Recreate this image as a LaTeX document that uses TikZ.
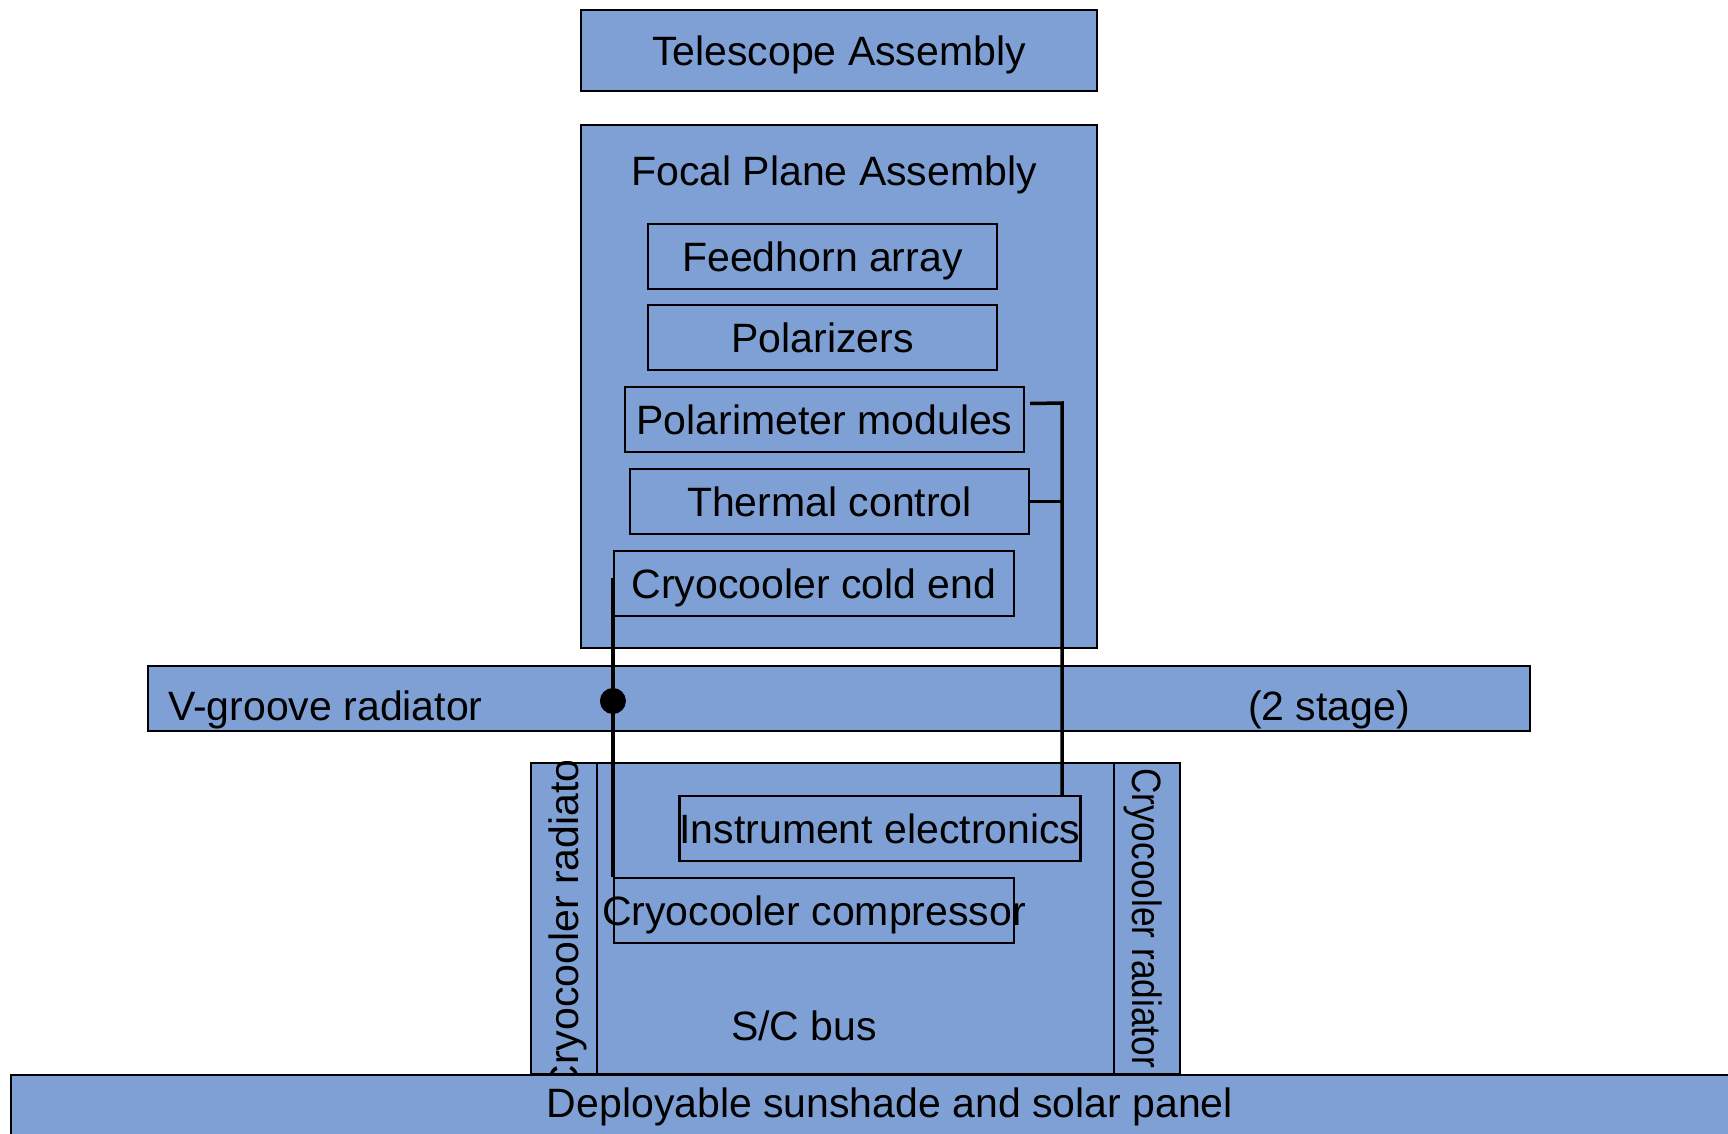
\documentclass[tikz,border=0pt]{standalone}
\usepackage{fontspec}
\setmainfont{Liberation Sans}
\usetikzlibrary{positioning,calc}
\definecolor{panelblue}{RGB}{127,160,213}
\newcommand{\nowidth}[1]{\makebox[0pt]{#1}}

\begin{document}
\begin{tikzpicture}[
			x=1pt, y=-1pt,
			every node/.style={font=\fontsize{41}{48}\selectfont, inner sep=0pt},
			lbl/.style={text height=37pt, text depth=8pt},
			box/.style={draw, line width=2.2pt, fill=panelblue, lbl},
			wire/.style={line width=3.5pt},
			dot/.style={circle, fill=black, minimum size=26pt}
			]
			\useasboundingbox (0,0) rectangle (1728,1133);
			
			% Telescope and focal plane
			\node (telescope) [box, minimum width=516pt, minimum height=81pt] at (839,50.5) {Telescope Assembly};
			\node (fpa) [box, minimum width=516pt, minimum height=523pt] at (839,386.5) {};
			\node (fpalabel) [lbl] at (834,171) {Focal Plane Assembly};
			\node (feedhorn) [box, minimum width=349pt, minimum height=65pt] at (822.5,256.5) {Feedhorn array};
			\node (polarizers) [box, minimum width=349pt, minimum height=65pt] at (822.5,337.5) {Polarizers};
			\node (polarimeter) [box, minimum width=399pt, minimum height=65pt] at (824.5,419.5) {Polarimeter modules};
			\node (thermal) [box, minimum width=399pt, minimum height=65pt] at (829.5,501.5) {Thermal control};
			\node (coldend) [box, minimum width=400pt, minimum height=65pt] at (814,583.5) {Cryocooler cold end};
			
			% V-groove radiator
			\node (vgroove) [box, minimum width=1382pt, minimum height=65pt] at (839,698.5) {};
			\node (vglabel) [lbl, anchor=west] at (168,706) {V-groove radiator};
			\node (stagelabel) [lbl] at (1329,706) {(2 stage)};
			
			% Spacecraft bus
			\node (bus) [box, minimum width=649pt, minimum height=311pt] at (855.5,918.5) {};
			\node (buslabel) [lbl] at (804,1026) {S/C bus};
			\node (radleft) [box, minimum width=66pt, minimum height=311pt] at (564,918.5) {};
			\node (radright) [box, minimum width=66pt, minimum height=311pt] at (1147,918.5) {};
			\begin{scope}
				\clip (radleft.north west) rectangle (radleft.south east);
				\node (radlefttext) [lbl, rotate=90] at (564,920) {Cryocooler radiator};
			\end{scope}
			\node (radrighttext) [lbl, rotate=-90] at (1147,918) {\scalebox{0.86}[1]{Cryocooler radiator}};
			\node (electronics) [box, minimum width=400pt, minimum height=65pt] at (880,828.5) {Instrument electronics};
			\node (compressor) [box, minimum width=400pt, minimum height=65pt] at (814,910.5) {\nowidth{Cryocooler compressor}};
			
			% Sunshade
			\node (sunshade) [box, anchor=north west, minimum width=1740pt, minimum height=80pt] at (10,1074) {};
			\node (sunlabel) [lbl] at (890,1103) {Deployable sunshade and solar panel};
			
			% Connections
			\coordinate (tap) at (1062,403);
			\draw[wire] ([xshift=5pt,yshift=16pt]polarimeter.east) -- (tap) -- (tap |- electronics.north);
			\draw[wire] (thermal.east) -- (thermal.east -| tap);
			\draw[wire] ([yshift=6pt]coldend.west) -- (compressor.north west);
			\node (vgjoint) [dot] at (coldend.west |- 0,701) {};
		\end{tikzpicture}
\end{document}
